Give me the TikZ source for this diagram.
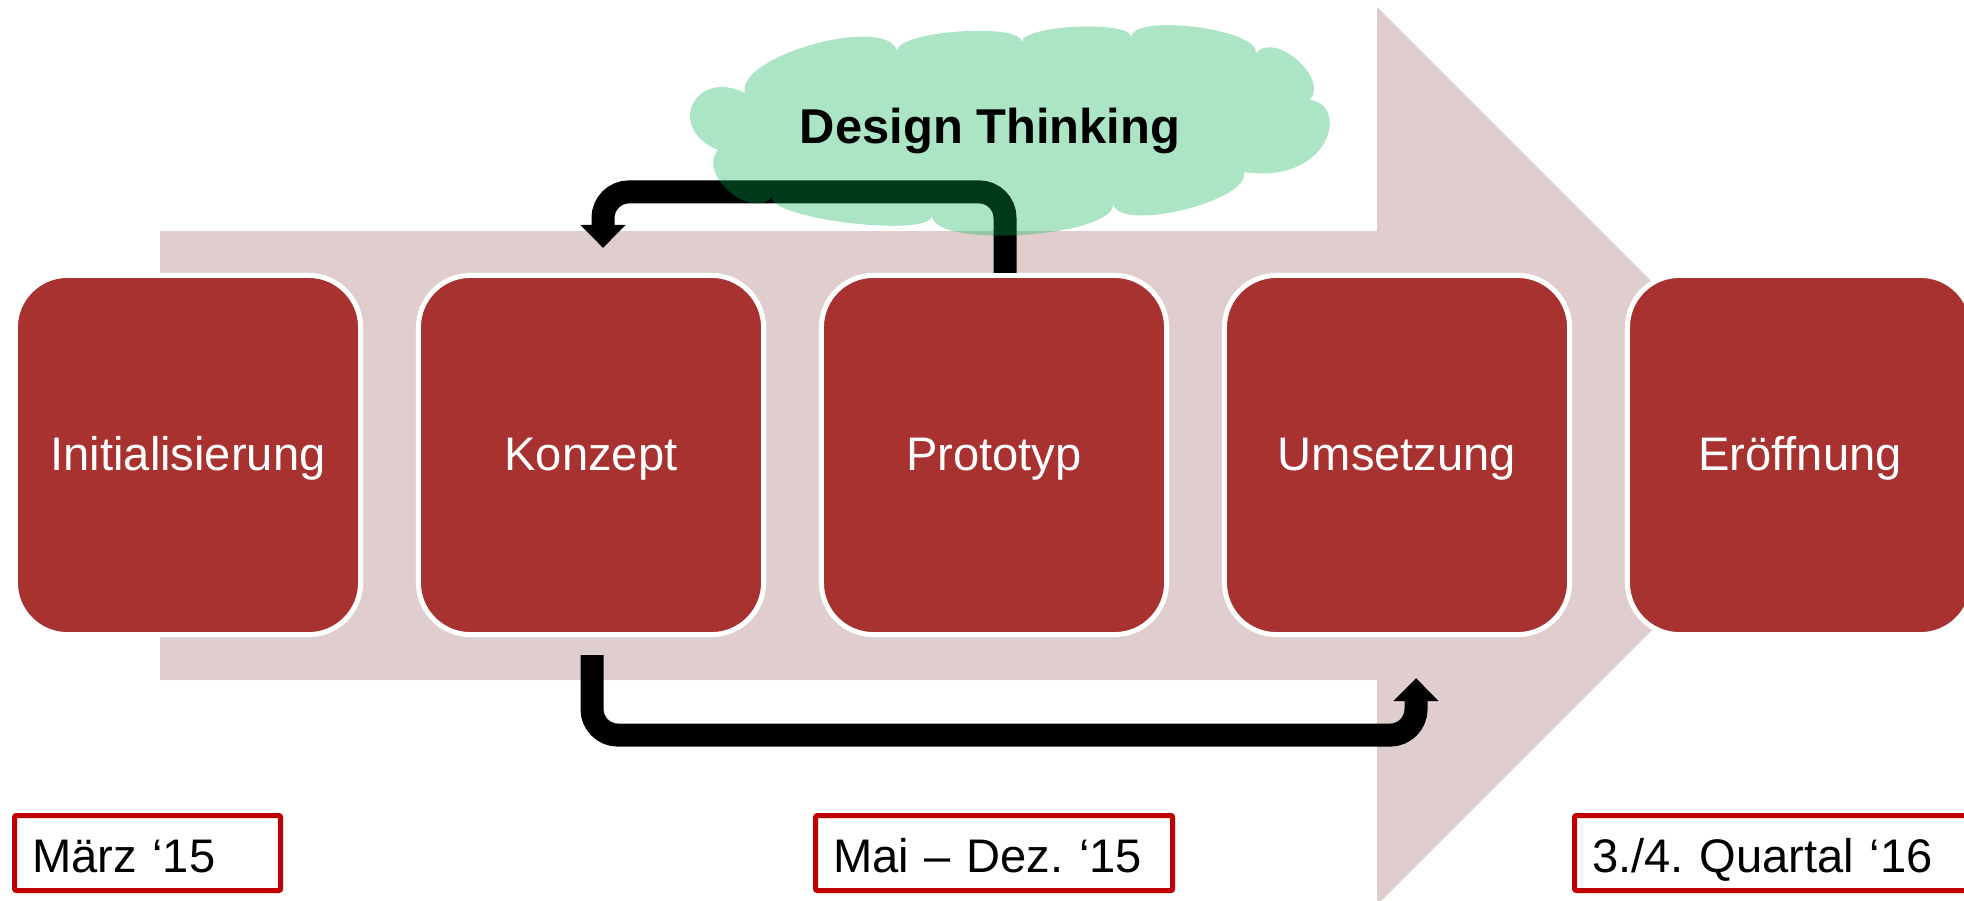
\documentclass[tikz,border=0pt]{standalone}
\usepackage{fontspec}
\setmainfont{Liberation Sans}[Ligatures=NoCommon]
\usetikzlibrary{arrows.meta}
\definecolor{pinkarrow}{RGB}{224,206,207}
\definecolor{boxred}{RGB}{168,50,48}
\definecolor{datered}{RGB}{192,0,0}
\definecolor{cloudgreen}{RGB}{0,176,80}
\frenchspacing
\begin{document}
\frenchspacing
\begin{tikzpicture}[x=0.01cm,y=-0.01cm,
  phase/.style={draw=white, line width=0.05cm, fill=boxred, rounded corners=0.52cm,
    minimum width=3.45cm, minimum height=3.59cm, inner sep=0pt, text=white,
    font=\fontsize{13.4}{16}\selectfont, text height=0.34cm, text depth=0.04cm},
  datebox/.style={draw=datered, line width=0.05cm, fill=white, rounded corners=0.02cm,
    minimum height=0.75cm, inner xsep=0.175cm, inner ysep=0pt, align=left,
    anchor=north west, font=\fontsize{13.4}{16}\selectfont, text height=0.38cm, text depth=0cm},
  fb/.style={draw=black, line width=0.23cm,
    -{Triangle[width=0.44cm,length=0.23cm]}}]
\useasboundingbox (0,0) rectangle (1964,900);
\clip (0,0) rectangle (1964,900);
% big background arrow
\fill[pinkarrow] (160,231) -- (1377,231) -- (1377,7) -- (1826,456) -- (1377,905)
  -- (1377,680) -- (160,680) -- cycle;
% phases
\node[phase] (init)   at (188,455)  {Initialisierung};
\node[phase] (konz)   at (591,455)  {Konzept};
\node[phase] (proto)  at (994,455)  {Prototyp};
\node[phase] (umset)  at (1397,455) {Umsetzung};
\node[phase] (eroeff) at (1800,455) {Eröffnung};
% dates
\node[datebox, text width=2.31cm] (d1) at (12,813)   {März ‘15};
\node[datebox, text width=3.22cm] (d2) at (813,813)  {Mai – Dez. ‘15};
\node[datebox, text width=3.80cm] (d3) at (1572,813) {3./4. Quartal ‘16};
% feedback arrows
\draw[fb] ([xshift=0.11cm]proto.north) [rounded corners=0.26cm] -- ++(0,-81)
  -| ([xshift=0.12cm,yshift=0.25cm]konz.north) [sharp corners];
\draw[fb] ([xshift=0.01cm,yshift=-0.18cm]konz.south) [rounded corners=0.26cm] -- ++(0,80)
  -| ([xshift=0.19cm,yshift=-0.41cm]umset.south) [sharp corners];
% cloud
\fill[cloudgreen, fill opacity=0.33] (745,93)
  .. controls (735,56) and (887,14) .. (897,51)
  .. controls (896,31) and (1021,22) .. (1022,42)
  .. controls (1022,25) and (1131,20) .. (1131,37)
  .. controls (1134,13) and (1259,29) .. (1256,53)
  .. controls (1275,31) and (1329,78) .. (1310,100)
  .. controls (1350,105) and (1330,185) .. (1244,172)
  .. controls (1251,201) and (1120,233) .. (1113,204)
  .. controls (1115,237) and (934,249) .. (932,216)
  .. controls (929,238) and (769,219) .. (772,197)
  .. controls (751,221) and (697,174) .. (718,150)
  .. controls (665,128) and (695,68) .. (745,93)
  -- cycle;
\node[font=\bfseries\fontsize{13.9}{16}\selectfont, anchor=base, inner sep=0pt] (dt) at (990,143) {Design Thinking};
\end{tikzpicture}
\end{document}
